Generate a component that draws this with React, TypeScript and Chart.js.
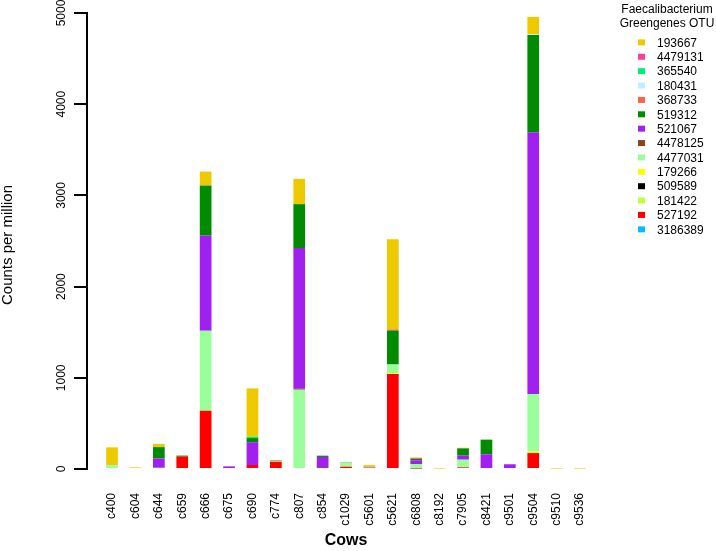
import React, { useEffect, useRef } from 'react';
import { Chart, registerables } from 'chart.js';

Chart.register(...registerables);

const FONT = "'Liberation Sans', Arial, sans-serif";

const cows = ['c400', 'c604', 'c644', 'c659', 'c666', 'c675', 'c690', 'c774', 'c807', 'c854', 'c1029',
  'c5601', 'c5621', 'c6808', 'c8192', 'c7905', 'c8421', 'c9501', 'c9504', 'c9510', 'c9536'];

const yTicks = [0, 1000, 2000, 3000, 4000, 5000];

// legend order (top to bottom)
const otuNames = ['193667', '4479131', '365540', '180431', '368733', '519312', '521067', '4478125',
  '4477031', '179266', '509589', '181422', '527192', '3186389'];
const otuColors = ['#EEC900', '#FF3E96', '#00EE76', '#BFEFFF', '#FF6347', '#008B00', '#A020F0', '#8B4513',
  '#9AFF9A', '#FFFF00', '#000000', '#C0FF3E', '#FF0000', '#00BFFF'];

//                 c400 c604 c644 c659 c666 c675 c690 c774 c807 c854 c1029 c5601 c5621 c6808 c8192 c7905 c8421 c9501 c9504 c9510 c9536
const otu193667 = [197, 18, 36, 0, 153, 0, 530, 5, 277, 0, 0, 22, 989, 0, 5, 7, 0, 0, 190, 5, 5];
const otu4479131 = [0, 0, 0, 0, 0, 3, 0, 0, 0, 0, 0, 0, 0, 0, 0, 0, 0, 0, 0, 0, 0];
const otu365540 = [0, 0, 0, 0, 0, 0, 15, 0, 0, 0, 0, 0, 0, 0, 0, 0, 0, 0, 0, 0, 0];
const otu180431 = [0, 0, 0, 0, 0, 0, 0, 0, 0, 0, 0, 0, 0, 0, 0, 0, 0, 0, 8, 0, 0];
const otu368733 = [0, 0, 0, 0, 0, 0, 0, 0, 0, 0, 0, 5, 12, 12, 0, 0, 0, 0, 0, 0, 0];
const otu519312 = [0, 0, 124, 12, 548, 0, 45, 0, 482, 14, 0, 0, 373, 16, 0, 80, 161, 0, 1066, 0, 0];
const otu521067 = [0, 0, 102, 0, 1045, 28, 250, 0, 1542, 117, 0, 15, 0, 44, 0, 44, 161, 52, 2871, 0, 0];
const otu4478125 = [0, 0, 0, 0, 0, 0, 0, 8, 10, 0, 4, 0, 0, 0, 0, 0, 0, 0, 0, 0, 0];
const otu4477031 = [40, 0, 0, 0, 876, 0, 0, 6, 870, 0, 45, 0, 95, 47, 0, 84, 0, 0, 632, 0, 0];
const otu179266 = [0, 0, 0, 0, 0, 0, 0, 0, 0, 0, 0, 0, 10, 0, 0, 0, 0, 0, 15, 0, 0];
const otu509589 = [0, 0, 0, 0, 0, 0, 0, 0, 0, 15, 0, 0, 0, 0, 0, 0, 0, 0, 0, 0, 0];
const otu181422 = [0, 0, 0, 0, 0, 0, 0, 0, 0, 0, 0, 0, 0, 0, 0, 0, 0, 0, 0, 0, 0];
const otu527192 = [0, 0, 0, 135, 639, 0, 44, 78, 0, 0, 25, 0, 1041, 5, 0, 18, 0, 0, 175, 0, 0];
const otu3186389 = [0, 0, 14, 0, 0, 0, 0, 0, 0, 0, 0, 0, 0, 0, 0, 0, 0, 0, 0, 0, 0];

const otuValues = [otu193667, otu4479131, otu365540, otu180431, otu368733, otu519312, otu521067,
  otu4478125, otu4477031, otu179266, otu509589, otu181422, otu527192, otu3186389];

const App = () => {
  const ref = useRef<HTMLCanvasElement>(null);

  useEffect(() => {
    if (!ref.current) return;
    // stack from bottom (last legend entry) to top (first legend entry)
    const order = otuNames.map((_, i) => i).reverse();
    const datasets = order.map((k) => ({
      label: otuNames[k],
      backgroundColor: otuColors[k],
      borderWidth: 0,
      data: cows.map((_, i) => ({ x: i, y: otuValues[k][i] })),
    }));

    const overlay = {
      id: 'overlay',
      afterDraw(chart: any) {
        const ctx = chart.ctx as CanvasRenderingContext2D;
        const ys = chart.scales.y;
        ctx.save();
        ctx.fillStyle = '#000';
        // y tick labels (rotated)
        ctx.font = `12px ${FONT}`;
        ctx.textAlign = 'center';
        ctx.textBaseline = 'alphabetic';
        yTicks.forEach((t) => {
          const py = ys.getPixelForValue(t);
          ctx.save();
          ctx.translate(65, py);
          ctx.rotate(-Math.PI / 2);
          ctx.fillText(String(t), 0, 0);
          ctx.restore();
        });
        // y title
        ctx.font = `15px ${FONT}`;
        ctx.save();
        ctx.translate(12, (chart.chartArea.top + chart.chartArea.bottom) / 2 + 4);
        ctx.rotate(-Math.PI / 2);
        ctx.fillText('Counts per million', 0, 0);
        ctx.restore();
        // x title
        ctx.font = `bold 16px ${FONT}`;
        ctx.textBaseline = 'middle';
        ctx.fillText('Cows', 346, 541);
        // legend
        ctx.font = `12px ${FONT}`;
        ctx.textBaseline = 'alphabetic';
        ctx.fillText('Faecalibacterium', 667, 12.6);
        ctx.fillText('Greengenes OTU', 667, 27);
        ctx.textAlign = 'left';
        otuNames.forEach((name, i) => {
          const cy = 42.4 + i * 14.38;
          ctx.fillStyle = otuColors[i];
          ctx.fillRect(638, cy - 3, 7, 6);
          ctx.fillStyle = '#000';
          ctx.fillText(name, 657, cy + 4.2);
        });
        ctx.restore();
      },
    };

    const chart = new Chart(ref.current, {
      type: 'bar',
      data: { datasets } as any,
      plugins: [overlay],
      options: {
        responsive: false,
        animation: false,
        layout: { padding: { left: 0, right: 106, top: 13, bottom: 0 } },
        plugins: { legend: { display: false }, tooltip: { enabled: false } },
        datasets: { bar: { categoryPercentage: 1, barPercentage: 0.5 } },
        scales: {
          x: {
            type: 'linear',
            stacked: true,
            min: -1.07,
            max: 21.28,
            offset: false,
            grid: { display: false, drawTicks: false },
            border: { display: false },
            ticks: {
              stepSize: 1,
              autoSkip: false,
              includeBounds: false,
              maxTicksLimit: 100,
              minRotation: 90,
              maxRotation: 90,
              padding: 24,
              color: '#000',
              font: { family: FONT, size: 12 },
              callback: (v: any) => (Number.isInteger(v) && cows[v] ? cows[v] : ''),
            },
            afterFit: (s: any) => { s.height = 82; },
          },
          y: {
            type: 'linear',
            stacked: true,
            min: 0,
            max: 5000,
            ticks: { display: false, stepSize: 1000 },
            grid: { drawOnChartArea: false, drawTicks: true, tickLength: 13, tickWidth: 2, tickColor: '#000', lineWidth: 2, color: '#000' },
            border: { display: true, width: 2, color: '#000' },
            afterFit: (s: any) => { s.width = 87; },
          },
        },
      } as any,
    });
    return () => chart.destroy();
  }, []);

  return (
    <div style={{ position: 'absolute', left: 0, top: 0, width: 716, height: 551, background: '#fff' }}>
      <canvas ref={ref} width={716} height={551} />
    </div>
  );
};

export default App;
